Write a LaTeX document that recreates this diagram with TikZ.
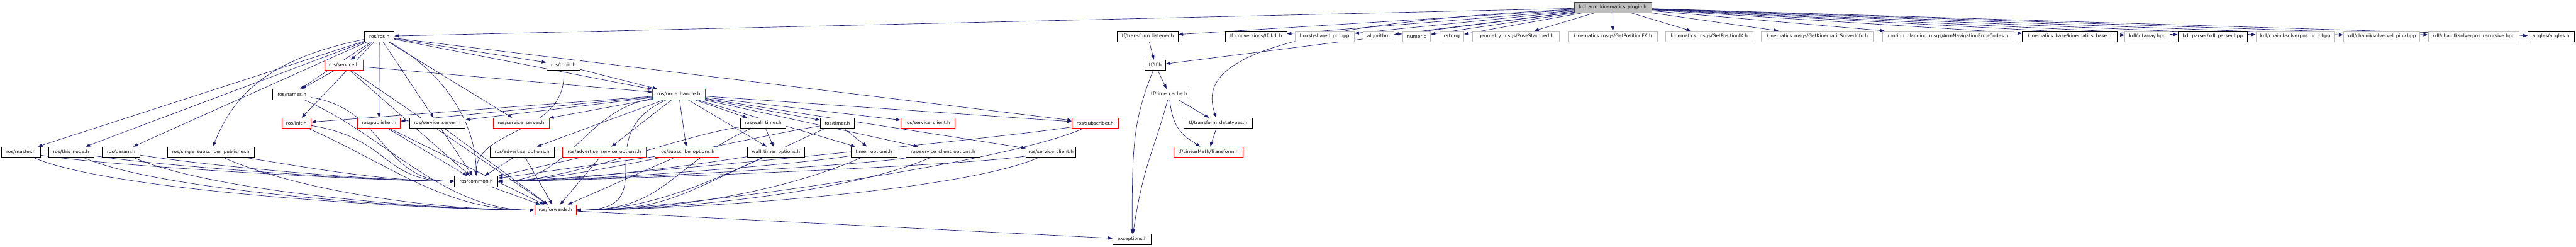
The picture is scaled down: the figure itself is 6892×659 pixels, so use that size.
\documentclass[tikz,border=0pt]{standalone}
\usepackage{fontspec}
\setmainfont{DejaVu Sans}
\usepackage{xcolor}
\usepackage{tikz}
\usetikzlibrary{arrows.meta, backgrounds}
\definecolor{edgeblue}{HTML}{191970}
\definecolor{extgray}{HTML}{BFBFBF}
\definecolor{rootgray}{HTML}{BFBFBF}
\definecolor{rootline}{HTML}{404040}

\begin{document}
\begin{tikzpicture}[x=1pt, y=-1pt, >={Triangle[length=12pt, width=8.5pt]},
    font=\fontsize{12.5}{15}\selectfont,
    hdr/.style={draw=black, fill=white, line width=1.2pt, minimum height=28pt, inner sep=0pt},
    hdrext/.style={hdr, draw=extgray},
    hdrtrunc/.style={hdr, draw=red},
    hdrroot/.style={hdr, draw=rootline, fill=rootgray},
    dep/.style={->, color=edgeblue, line width=1.1pt}]
      \useasboundingbox (0,0) rectangle (6892,659);

      \node[hdrroot, minimum width=207pt] (root) at (4315,20) {kdl\_arm\_kinematics\_plugin.h};

      \node[hdr, minimum width=79pt] (ros) at (1015,97) {ros/ros.h};
      \node[hdr, minimum width=163pt] (tflist) at (3071,97) {tf/transform\_listener.h};
      \node[hdr, minimum width=165pt] (tfkdl) at (3360,97) {tf\_conversions/tf\_kdl.h};
      \node[hdrext, minimum width=159pt] (boost) at (3544,97) {boost/shared\_ptr.hpp};
      \node[hdrext, minimum width=83pt] (algo) at (3688,97) {algorithm};
      \node[hdrext, minimum width=75pt] (numeric) at (3790,97) {numeric};
      \node[hdrext, minimum width=65pt] (cstring) at (3884,97) {cstring};
      \node[hdrext, minimum width=232pt] (pose) at (4056,97) {geometry\_msgs/PoseStamped.h};
      \node[hdrext, minimum width=237pt] (getfk) at (4315,97) {kinematics\_msgs/GetPositionFK.h};
      \node[hdrext, minimum width=234pt] (getik) at (4573,97) {kinematics\_msgs/GetPositionIK.h};
      \node[hdrext, minimum width=299pt] (getinfo) at (4862,97) {kinematics\_msgs/GetKinematicSolverInfo.h};
      \node[hdrext, minimum width=352pt] (errcodes) at (5212,97) {motion\_planning\_msgs/ArmNavigationErrorCodes.h};
      \node[hdr, minimum width=253pt] (kinbase) at (5537,97) {kinematics\_base/kinematics\_base.h};
      \node[hdrext, minimum width=120pt] (jntarray) at (5745,97) {kdl/jntarray.hpp};
      \node[hdr, minimum width=186pt] (kdlparser) at (5920,97) {kdl\_parser/kdl\_parser.hpp};
      \node[hdrext, minimum width=210pt] (ikpos) at (6141,97) {kdl/chainiksolverpos\_nr\_jl.hpp};
      \node[hdrext, minimum width=204pt] (ikvel) at (6372,97) {kdl/chainiksolvervel\_pinv.hpp};
      \node[hdrext, minimum width=243pt] (fkpos) at (6618,97) {kdl/chainfksolverpos\_recursive.hpp};
      \node[hdr, minimum width=124pt] (angles) at (6825,97) {angles/angles.h};

      \node[hdrtrunc, minimum width=103pt] (service) at (920,174) {ros/service.h};
      \node[hdr, minimum width=90pt] (topic) at (1507,174) {ros/topic.h};
      \node[hdr, minimum width=55pt] (tftf) at (3091,174) {tf/tf.h};

      \node[hdr, minimum width=103pt] (names) at (781,252) {ros/names.h};
      \node[hdrtrunc, minimum width=141pt] (nh) at (1816,252) {ros/node\_handle.h};
      \node[hdr, minimum width=122pt] (timecache) at (3128,252) {tf/time\_cache.h};

      \node[hdrtrunc, minimum width=78pt] (init) at (793,329) {ros/init.h};
      \node[hdrtrunc, minimum width=115pt] (pub) at (1014,329) {ros/publisher.h};
      \node[hdr, minimum width=149pt] (srvserverA) at (1170,329) {ros/service\_server.h};
      \node[hdrtrunc, minimum width=150pt] (srvserverB) at (1394,329) {ros/service\_server.h};
      \node[hdr, minimum width=122pt] (walltimer) at (2042,329) {ros/wall\_timer.h};
      \node[hdr, minimum width=91pt] (timer) at (2240,329) {ros/timer.h};
      \node[hdrtrunc, minimum width=144pt] (srvclientA) at (2482,329) {ros/service\_client.h};
      \node[hdrtrunc, minimum width=123pt] (sub) at (2930,329) {ros/subscriber.h};
      \node[hdr, minimum width=182pt] (tfdata) at (3259,329) {tf/transform\_datatypes.h};

      \node[hdr, minimum width=103pt] (master) at (56,406) {ros/master.h};
      \node[hdr, minimum width=121pt] (thisnode) at (190,406) {ros/this\_node.h};
      \node[hdr, minimum width=100pt] (param) at (324,406) {ros/param.h};
      \node[hdr, minimum width=232pt] (singlesub) at (564,406) {ros/single\_subscriber\_publisher.h};
      \node[hdr, minimum width=171pt] (advopt) at (1397,406) {ros/advertise\_options.h};
      \node[hdrtrunc, minimum width=223pt] (advsrvopt) at (1617,406) {ros/advertise\_service\_options.h};
      \node[hdrtrunc, minimum width=173pt] (subopt) at (1838,406) {ros/subscribe\_options.h};
      \node[hdr, minimum width=153pt] (walltimeropt) at (2076,406) {wall\_timer\_options.h};
      \node[hdr, minimum width=123pt] (timeropt) at (2338,406) {timer\_options.h};
      \node[hdr, minimum width=199pt] (srvclientopt) at (2523,406) {ros/service\_client\_options.h};
      \node[hdr, minimum width=133pt] (srvclientB) at (2812,406) {ros/service\_client.h};
      \node[hdrtrunc, minimum width=186pt] (lmtransform) at (3233,406) {tf/LinearMath/Transform.h};

      \node[hdr, minimum width=116pt] (common) at (1274,484) {ros/common.h};
      \node[hdrtrunc, minimum width=112pt] (forwards) at (1486,561) {ros/forwards.h};
      \node[hdr, minimum width=103pt] (exceptions) at (3029,639) {exceptions.h};

      \begin{pgfonlayer}{background}
      \foreach \t in {ros, tflist, tftf, tfkdl, boost, algo, numeric, cstring, pose, getfk, getik,
                      getinfo, errcodes, kinbase, jntarray, kdlparser, ikpos, ikvel, fkpos, angles}
            \draw[dep] (root) -- (\t);
      \draw[dep] (root) .. controls (3270,70) and (3215,200) .. (tfdata);

      \foreach \t in {master, thisnode, param, service, names, init, pub, srvserverA, srvserverB,
                      topic, nh, sub}
            \draw[dep] (ros) -- (\t);
      \draw[dep] (ros) .. controls +(-300,60) and +(60,-150) .. (singlesub);
      \draw[dep] (ros) .. controls +(180,100) and +(0,-150) .. (common);

      \foreach \t in {init, pub, srvserverA, srvserverB, advopt, advsrvopt, subopt, walltimer,
                      walltimeropt, timer, timeropt, srvclientA, srvclientopt, srvclientB, sub}
            \draw[dep] (nh) -- (\t);
      \draw[dep] (service) -- (names);
      \draw[dep] (service) -- (nh);
      \draw[dep] (topic) -- (nh);
      \draw[dep] (topic) .. controls (1520,360) and (1274,340) .. (common);
      \draw[dep] (walltimer) -- (walltimeropt);
      \draw[dep] (timer) -- (timeropt);

      \foreach \s in {master, thisnode, param, singlesub, names, init} {
            \draw[dep] (\s) .. controls +(250,40) and +(-250,0) .. (common);
            \draw[dep] (\s) .. controls +(250,110) and +(-300,0) .. (forwards);
      }
      \foreach \s in {service, pub, srvserverA, advopt, advsrvopt, subopt} {
            \draw[dep] (\s) -- (common);
            \draw[dep] (\s) -- (forwards);
      }
      \foreach \s in {nh, walltimer, walltimeropt, timer, timeropt, srvclientopt, srvclientB, sub} {
            \draw[dep] (\s) .. controls +(-250,40) and +(250,0) .. (common);
            \draw[dep] (\s) .. controls +(-250,110) and +(300,0) .. (forwards);
      }
      \draw[dep] (common) -- (forwards);
      \draw[dep] (forwards) -- (exceptions);

      \draw[dep] (tflist) -- (tftf);
      \draw[dep] (tftf) -- (timecache);
      \draw[dep] (tftf) .. controls +(-60,150) and +(0,-250) .. (exceptions);
      \draw[dep] (timecache) .. controls +(-40,150) and +(30,-200) .. (exceptions);
      \draw[dep] (timecache) -- (tfdata);
      \draw[dep] (timecache) .. controls +(10,100) and +(-60,-40) .. (lmtransform);
      \draw[dep] (tfdata) -- (lmtransform);
      \end{pgfonlayer}
    \end{tikzpicture}
\end{document}
